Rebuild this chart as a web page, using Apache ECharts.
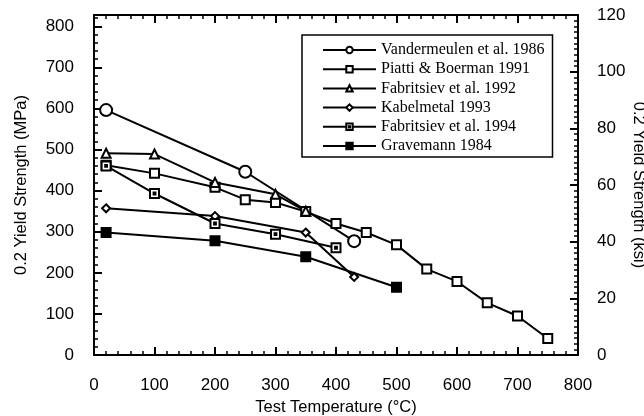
<!DOCTYPE html>
<html>
<head>
<meta charset="utf-8">
<script src="https://cdn.jsdelivr.net/npm/echarts@6/dist/echarts.min.js"></script>
<style>
	html, body { margin: 0; padding: 0; background: #fff; }
	#chart { width: 644px; height: 416px; }
</style>
</head>
<body>
<div id="chart"></div>
<script>
// ---------- DATA ----------
var vanderTemps = [20, 250, 430];
var vanderValues = [596, 446, 277];

var piattiTemps = [20, 100, 200, 250, 300, 350, 400, 450, 500, 550, 600, 650, 700, 750];
var piattiValues = [462, 442, 408, 378, 371, 349, 320, 298, 268, 209, 179, 127, 95, 40];

var fab92Temps = [20, 100, 200, 300, 350];
var fab92Values = [491, 489, 420, 391, 350];

var kabelTemps = [20, 200, 350, 430];
var kabelValues = [357, 338, 298, 190];

var fab94Temps = [20, 100, 200, 300, 400];
var fab94Values = [460, 393, 320, 294, 261];

var gravTemps = [20, 200, 350, 500];
var gravValues = [298, 278, 239, 165];

var xTicks = [0, 100, 200, 300, 400, 500, 600, 700, 800];
var ksiTicks = [0, 20, 40, 60, 80, 100, 120];

var MPA_PER_KSI = 6.895;

function pairs(xs, ys) {
	return xs.map(function (x, i) { return [x, ys[i]]; });
}

// ---------- CHART ----------
var chart = echarts.init(document.getElementById('chart'));

var sansFont = '"Liberation Sans", Arial, sans-serif';
var serifFont = '"Liberation Serif", "Times New Roman", serif';

// ticks point into the plot (negative length)
function axisLine() {
	return { show: true, onZero: false, lineStyle: { color: '#000', width: 2 } };
}
function majorTick() {
	return { show: true, length: -8, lineStyle: { color: '#000', width: 2 } };
}
function minorTick(n) {
	return { show: true, splitNumber: n, length: -4, lineStyle: { color: '#000', width: 1.5 } };
}

function lineSeries(name, xs, ys, symbol, size, fill) {
	return {
		name: name,
		type: 'line',
		data: pairs(xs, ys),
		symbol: symbol,
		symbolSize: size,
		showAllSymbol: true,
		lineStyle: { color: '#000', width: 2 },
		itemStyle: { color: fill, borderColor: '#000', borderWidth: 2 },
		emphasis: { disabled: true },
		z: 3
	};
}

var option = {
	animation: false,
	grid: { left: 94, right: 66, top: 15, bottom: 61, outerBoundsMode: 'none' },
	textStyle: { fontFamily: sansFont },
	legend: {
		orient: 'vertical',
		left: 302,
		top: 35,
		padding: [7, 8, 3, 20],
		itemWidth: 53,
		itemHeight: 8,
		itemGap: 3.2,
		borderColor: '#000',
		borderWidth: 1.5,
		backgroundColor: '#fff',
		textStyle: { fontFamily: serifFont, fontSize: 16, color: '#000' },
		selectedMode: false
	},
	xAxis: [
		{
			type: 'value',
			min: 0,
			max: 800,
			interval: 100,
			position: 'bottom',
			name: 'Test Temperature (°C)',
			nameLocation: 'middle',
			nameGap: 40,
			nameTextStyle: { fontSize: 16.5, color: '#000', fontFamily: sansFont },
			axisLine: axisLine(),
			axisTick: majorTick(),
			minorTick: minorTick(5),
			axisLabel: {
				color: '#000', fontSize: 17, margin: 22,
				formatter: function (v) { return xTicks.indexOf(v) >= 0 ? String(v) : ''; }
			},
			splitLine: { show: false }
		},
		{
			type: 'value',
			min: 0,
			max: 800,
			interval: 100,
			position: 'top',
			axisLine: axisLine(),
			axisTick: majorTick(),
			minorTick: minorTick(5),
			axisLabel: { show: false },
			splitLine: { show: false }
		}
	],
	yAxis: [
		{
			type: 'value',
			min: 0,
			max: 120 * MPA_PER_KSI,
			interval: 100,
			position: 'left',
			name: '0.2 Yield Strength (MPa)',
			nameLocation: 'middle',
			nameGap: 64,
			nameTextStyle: { fontSize: 16.5, color: '#000', fontFamily: sansFont },
			axisLine: axisLine(),
			axisTick: majorTick(),
			minorTick: minorTick(5),
			axisLabel: { color: '#000', fontSize: 17, margin: 20, showMaxLabel: false },
			splitLine: { show: false }
		},
		{
			type: 'value',
			min: 0,
			max: 120,
			interval: 20,
			position: 'right',
			name: '0.2 Yield Strength (ksi)',
			nameLocation: 'middle',
			nameRotate: -90,
			nameGap: 52,
			nameMoveOverlap: false,
			nameTextStyle: { fontSize: 16.5, color: '#000', fontFamily: sansFont },
			axisLine: axisLine(),
			axisTick: majorTick(),
			minorTick: minorTick(10),
			axisLabel: {
				color: '#000', fontSize: 17, margin: 19,
				formatter: function (v) { return ksiTicks.indexOf(v) >= 0 ? String(v) : ''; }
			},
			splitLine: { show: false }
		}
	],
	series: [
		lineSeries('Vandermeulen et al. 1986', vanderTemps, vanderValues, 'circle', 12, '#fff'),
		lineSeries('Piatti & Boerman 1991', piattiTemps, piattiValues, 'rect', 9, '#fff'),
		lineSeries('Fabritsiev et al. 1992', fab92Temps, fab92Values, 'triangle', 9, '#fff'),
		lineSeries('Kabelmetal 1993', kabelTemps, kabelValues, 'diamond', 8, '#fff'),
		lineSeries('Fabritsiev et al. 1994', fab94Temps, fab94Values, 'path://M0,0H10V10H0Z M4,4H6V6H4Z', 9, '#fff'),
		lineSeries('Gravemann 1984', gravTemps, gravValues, 'rect', 9, '#000')
	]
};

chart.setOption(option);
</script>
</body>
</html>
